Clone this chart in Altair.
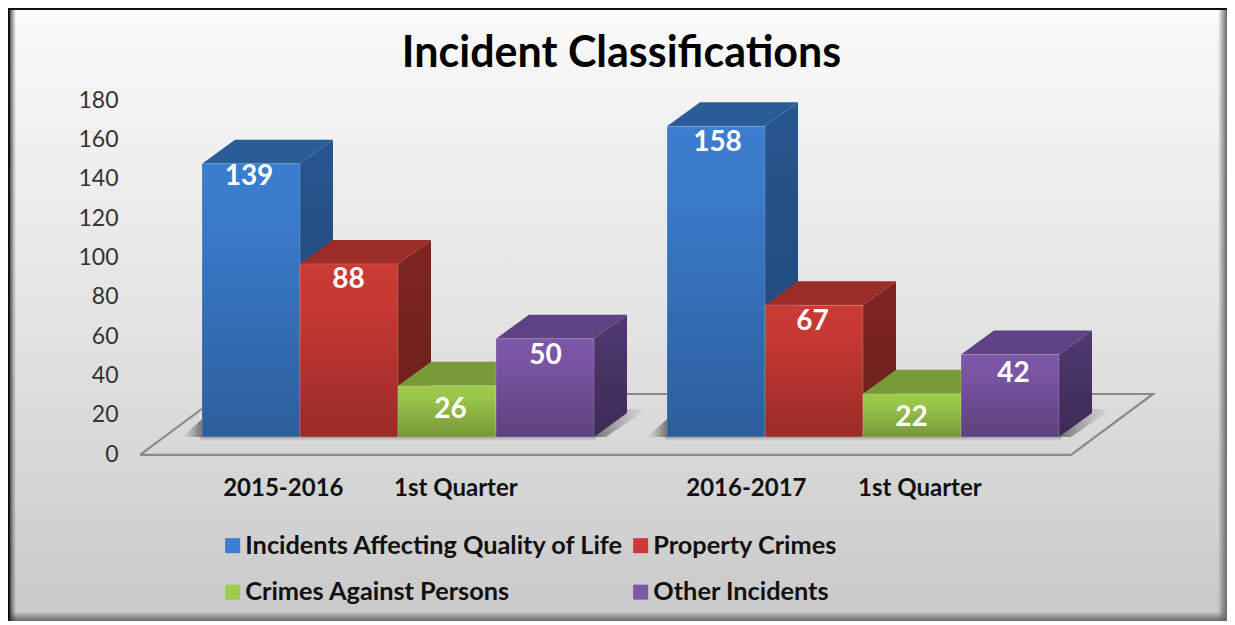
import altair as alt
import pandas as pd

TITLE = "Incident Classifications"
SERIES = ["Incidents Affecting Quality of Life", "Property Crimes", "Crimes Against Persons", "Other Incidents"]
GROUP_A = [139, 88, 26, 50]
GROUP_B = [158, 67, 22, 42]
PERIODS = ["2015-2016", "1st Quarter", "2016-2017", "1st Quarter"]
TICKS = list(range(0, 181, 20))
FRONT = ["#3b7dcf", "#cc3a35", "#9dcb4b", "#7d57a8"]
TOPF = ["#2a5c98", "#9c2c28", "#789b38", "#5f4283"]
SIDE_HI = ["#28568f", "#7f2522", "#647f2f", "#503a70"]
SIDE_LO = ["#1f4474", "#6a1f1c", "#50662a", "#3c2a56"]
LABEL_DROP = [[7, 8.1, 12.2, 8.6], [8.6, 8.6, 12.2, 10.2]]
LABEL_SHIFT = [[-0.5, 1, 5, 2], [3, 0, 1, 5]]

W, H = 1219, 613
UX = 98.0            # pixels per bar width
UY = 354 / 180.0     # pixels per count
DX = 33 / UX
DY = 24 / UY
BASE = 15 / UY
STARTS = [194 / UX, 659 / UX]

XS = alt.Scale(domain=[0, W / UX], range=[0, W], nice=False, zero=False)
YS = alt.Scale(domain=[0, 180], range=[444, 90], nice=False, zero=False)
YAX = alt.Axis(
    values=TICKS, domain=False, ticks=False, grid=False, offset=-110, zindex=1,
    labelPadding=0, labelOffset=2, labelFont="Lato", labelFontSize=23, labelColor="#333333",
)
X = lambda f="x": alt.X(f"{f}:Q", scale=XS, axis=None, title=None)
Y = lambda f="y": alt.Y(f"{f}:Q", scale=YS, axis=YAX, title=None)


def grad(stops, horizontal=False):
    return alt.Gradient(
        gradient="linear",
        x1=0, y1=0,
        x2=1 if horizontal else 0,
        y2=0 if horizontal else 1,
        stops=[alt.GradientStop(offset=o, color=c) for o, c in stops],
    )


one = pd.DataFrame({"a": [0]})


def panel(fill, x, x2, y, y2):
    return alt.Chart(one).mark_rect(fill=fill).encode(
        x=alt.value(x), x2=alt.value(x2), y=alt.value(y), y2=alt.value(y2)
    )


layers = [
    panel(grad([(0, "#fafafa"), (0.5, "#e4e4e4"), (1, "#c9c9c9")]), 0, W, 0, H),
    panel(grad([(0, "#ffffff"), (1, "rgba(255,255,255,0)")]), 0, W, 0, 18),
    panel(grad([(0, "rgba(90,90,90,0)"), (1, "#6b6b6b")]), 0, W, H - 9, H),
    panel(grad([(0, "rgba(90,90,90,0)"), (1, "#6b6b6b")], True), W - 9, W, 0, H),
    panel(grad([(0, "#222222"), (1, "rgba(60,60,60,0)")], True), 0, 8, 0, H),
    panel("#111111", 0, W, 0, 2),
    panel("#111111", 0, 2, 0, H),
]

# floor outline
f_l, f_r = 132 / UX, 1063 / UX
floor = pd.DataFrame({
    "x": [f_l, f_r, f_r + DX * 82 / 33, f_l + DX * 82 / 33, f_l],
    "y": [-1.5, -1.5, 29.5, 29.5, -1.5],
    "o": [0, 1, 2, 3, 4],
})
layers.append(
    alt.Chart(floor).mark_line(color="#8a8a8a", strokeWidth=2.2).encode(
        x=X(), y=Y(), order="o:Q"
    )
)

# soft shadows on the floor
shadow_r = []
shadow_l = []
for g, vals in enumerate([GROUP_A, GROUP_B]):
    s = STARTS[g]
    right = s + len(vals)
    shadow_r += [
        dict(bar=g, x=right, x2=right + 12 / UX, y=BASE),
        dict(bar=g, x=right + DX, x2=right + DX + 20 / UX, y=BASE + DY + 2),
    ]
    shadow_l += [
        dict(bar=g, x=s - 20 / UX, x2=s, y=BASE),
        dict(bar=g, x=s - 0.001, x2=s, y=BASE + 9),
    ]
layers.append(
    alt.Chart(pd.DataFrame(shadow_r)).mark_area(
        orient="horizontal",
        fill=grad([(0, "#707070"), (1, "rgba(150,150,150,0)")], True),
    ).encode(x=X(), x2="x2:Q", y=Y(), detail="bar:N")
)
layers.append(
    alt.Chart(pd.DataFrame(shadow_l)).mark_area(
        orient="horizontal",
        fill=grad([(0, "rgba(150,150,150,0)"), (1, "#707070")], True),
    ).encode(x=X(), x2="x2:Q", y=Y(), detail="bar:N")
)
under = pd.DataFrame([
    dict(x=STARTS[g] - 2 / UX, x2=STARTS[g] + 4 + 2 / UX, y=BASE, y2=BASE - 2.2)
    for g in range(2)
])
layers.append(
    alt.Chart(under).mark_rect(
        fill=grad([(0, "#9a9a9a"), (1, "rgba(190,190,190,0)")])
    ).encode(x=X(), x2="x2:Q", y=Y(), y2="y2:Q")
)

# bars
color = alt.Color(
    "series:N",
    scale=alt.Scale(domain=SERIES, range=FRONT),
    legend=alt.Legend(
        orient="none", legendX=212, legendY=525, columns=2, title=None, direction="horizontal",
        symbolType="square", symbolSize=225, symbolStrokeWidth=0, symbolOpacity=1,
        labelFont="Lato", labelFontWeight="bold", labelFontSize=25.3,
        labelColor="#111111", labelOffset=0, labelLimit=500,
        rowPadding=20.5, columnPadding=3, gridAlign="each",
    ),
)
for i, name in enumerate(SERIES):
    side, topf, front = [], [], []
    for g, vals in enumerate([GROUP_A, GROUP_B]):
        xl = STARTS[g] + i
        xr = xl + 1
        t = BASE + vals[i]
        side += [
            dict(bar=g, x=xr, y=BASE, y2=t),
            dict(bar=g, x=xr + DX, y=BASE + DY, y2=t + DY),
        ]
        topf += [
            dict(bar=g, x=xl, x2=xr, y=t),
            dict(bar=g, x=xl + DX, x2=xr + DX, y=t + DY),
        ]
        front.append(dict(series=name, x=xl, x2=xr, y=BASE, y2=t))
    layers.append(
        alt.Chart(pd.DataFrame(side)).mark_area(
            fill=grad([(0, SIDE_HI[i]), (1, SIDE_LO[i])])
        ).encode(x=X(), y=Y(), y2="y2:Q", detail="bar:N")
    )
    layers.append(
        alt.Chart(pd.DataFrame(topf)).mark_area(orient="horizontal", fill=TOPF[i]).encode(
            x=X(), x2="x2:Q", y=Y(), detail="bar:N"
        )
    )
    fdf = pd.DataFrame(front)
    layers.append(
        alt.Chart(fdf).mark_rect(strokeWidth=0).encode(
            x=X(), x2="x2:Q", y=Y(), y2="y2:Q", color=color
        )
    )
    layers.append(
        alt.Chart(fdf).mark_rect(
            fill=grad([(0, "rgba(0,0,0,0)"), (0.25, "rgba(0,0,0,0.03)"), (1, "rgba(0,0,0,0.25)")]),
            stroke="rgba(255,255,255,0.18)", strokeWidth=1,
        ).encode(x=X(), x2="x2:Q", y=Y(), y2="y2:Q")
    )

# value labels
labels = []
for g, vals in enumerate([GROUP_A, GROUP_B]):
    for i, v in enumerate(vals):
        labels.append(dict(
            x=STARTS[g] + i + 0.5 + LABEL_SHIFT[g][i] / UX - 1.5 / UX,
            y=BASE + v - LABEL_DROP[g][i],
            t=str(v),
        ))
layers.append(
    alt.Chart(pd.DataFrame(labels)).mark_text(
        font="Lato", fontWeight="bold", fontSize=28, color="white", baseline="middle", align="center"
    ).encode(x=X(), y=Y(), text="t:N")
)

# category labels
cats = pd.DataFrame({
    "x": [STARTS[0] + 0.83, STARTS[0] + 2.59, STARTS[1] + 0.81, STARTS[1] + 2.58],
    "y": [-18.8] * 4,
    "k": list(range(4)),
    "label": PERIODS,
})
layers.append(
    alt.Chart(cats).mark_text(
        font="Lato", fontWeight="bold", fontSize=24, color="#111111", baseline="middle", align="center"
    ).encode(x=X(), y=Y(), text="label:N", detail="k:N")
)

chart = alt.layer(*layers).properties(
    width=W,
    height=H,
    padding=0,
    autosize=alt.AutoSizeParams(type="none"),
    title=alt.TitleParams(
        TITLE, font="Lato", fontWeight="bold", fontSize=43, color="#000000",
        anchor="middle", dx=4, dy=68, offset=0,
    ),
).configure_view(stroke=None)

chart.save("out.html", embed_options={"renderer": "svg", "actions": False})
